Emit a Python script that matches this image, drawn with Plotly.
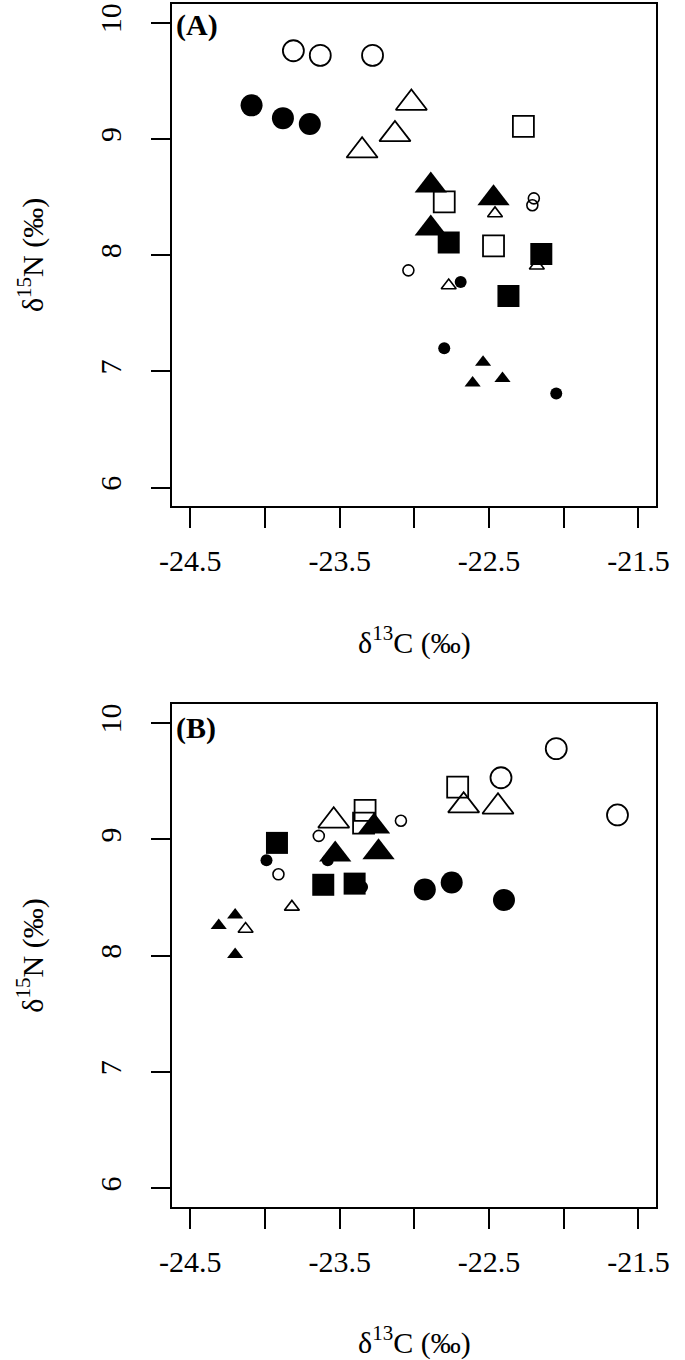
import plotly.graph_objects as go

# ---- painel (A) ----
A_big_open_circle_x = [-23.81, -23.63, -23.28]
A_big_open_circle_y = [9.76, 9.72, 9.72]
A_big_fill_circle_x = [-24.09, -23.88, -23.70]
A_big_fill_circle_y = [9.29, 9.18, 9.13]
A_big_open_tri_x = [-23.02, -23.13, -23.35]
A_big_open_tri_y = [9.31, 9.04, 8.90]
A_big_fill_tri_x = [-22.89, -22.89, -22.47]
A_big_fill_tri_y = [8.60, 8.23, 8.49]
A_big_open_sq_x = [-22.27, -22.80, -22.47]
A_big_open_sq_y = [9.11, 8.46, 8.08]
A_big_fill_sq_x = [-22.77, -22.37, -22.15]
A_big_fill_sq_y = [8.11, 7.65, 8.01]
A_small_open_circle_x = [-22.20, -22.21, -23.04]
A_small_open_circle_y = [8.49, 8.43, 7.87]
A_small_fill_circle_x = [-22.69, -22.80, -22.05]
A_small_fill_circle_y = [7.77, 7.20, 6.81]
A_small_open_tri_x = [-22.46, -22.18, -22.77]
A_small_open_tri_y = [8.36, 7.91, 7.74]
A_small_fill_tri_x = [-22.54, -22.61, -22.41]
A_small_fill_tri_y = [7.08, 6.90, 6.94]

# ---- painel (B) ----
B_big_open_circle_x = [-22.42, -22.05, -21.64]
B_big_open_circle_y = [9.53, 9.78, 9.21]
B_big_fill_circle_x = [-22.93, -22.75, -22.40]
B_big_fill_circle_y = [8.57, 8.63, 8.48]
B_big_open_tri_x = [-23.54, -22.67, -22.44]
B_big_open_tri_y = [9.16, 9.29, 9.28]
B_big_fill_tri_x = [-23.53, -23.27, -23.24]
B_big_fill_tri_y = [8.87, 9.11, 8.89]
B_big_open_sq_x = [-23.33, -23.34, -22.71]
B_big_open_sq_y = [9.25, 9.14, 9.45]
B_big_fill_sq_x = [-23.92, -23.61, -23.40]
B_big_fill_sq_y = [8.97, 8.61, 8.62]
B_small_open_circle_x = [-23.91, -23.64, -23.09]
B_small_open_circle_y = [8.70, 9.03, 9.16]
B_small_fill_circle_x = [-23.99, -23.58, -23.35]
B_small_fill_circle_y = [8.82, 8.82, 8.59]
B_small_open_tri_x = [-24.13, -23.82]
B_small_open_tri_y = [8.23, 8.42]
B_small_fill_tri_x = [-24.31, -24.20, -24.20]
B_small_fill_tri_y = [8.26, 8.35, 8.01]

x_ticks = [-24.5, -23.5, -22.5, -21.5]
x_ticktext = ['-24.5', '-23.5', '-22.5', '-21.5']
x_minor_ticks = [-24.0, -23.0, -22.0]
y_ticks = [6, 7, 8, 9, 10]

# simbolo, tamanho, largura da linha (ordem = ordem de desenho)
estilos = [
    ('small_open_circle', 'circle-open', 11, 1.6),
    ('small_fill_circle', 'circle', 12, 0),
    ('small_open_tri', 'triangle-up-open', 13, 1.6),
    ('small_fill_tri', 'triangle-up', 14, 0),
    ('big_open_circle', 'circle-open', 21, 1.8),
    ('big_open_tri', 'triangle-up-open', 27, 1.8),
    ('big_open_sq', 'square-open', 21, 1.8),
    ('big_fill_circle', 'circle', 22, 0),
    ('big_fill_tri', 'triangle-up', 28, 0),
    ('big_fill_sq', 'square', 22, 0),
]

fig = go.Figure()

for painel, xa, ya in [('A', 'x', 'y'), ('B', 'x2', 'y2')]:
    for nome, simbolo, tam, lw in estilos:
        xs = globals()[painel + '_' + nome + '_x']
        ys = globals()[painel + '_' + nome + '_y']
        fig.add_trace(go.Scatter(
            x=xs, y=ys, mode='markers', xaxis=xa, yaxis=ya,
            name=painel + ' ' + nome, showlegend=False,
            marker=dict(symbol=simbolo, size=tam, color='black',
                        line=dict(width=lw, color='black'))))

fonte = dict(family='Liberation Serif, Times New Roman, serif', size=30, color='black')

eixo_x = dict(range=[-24.62, -21.38], tickmode='array', tickvals=x_ticks, ticktext=x_ticktext,
              showgrid=False, zeroline=False, showline=True, mirror=True,
              linecolor='black', linewidth=1.6, ticks='outside', ticklen=20,
              tickwidth=1.5, tickcolor='black', tickfont=fonte,
              ticklabelstandoff=7,
              minor=dict(tickmode='array', tickvals=x_minor_ticks, ticks='outside',
                         ticklen=20, tickwidth=1.5, tickcolor='black', showgrid=False))
eixo_y = dict(range=[5.84, 10.16], tickmode='array', tickvals=y_ticks,
              showgrid=False, zeroline=False, showline=True, mirror=True,
              linecolor='black', linewidth=1.6, ticks='outside', ticklen=20,
              tickwidth=1.5, tickcolor='black', tickfont=fonte, tickangle=-90,
              ticklabelstandoff=18)

fig.update_layout(
    width=685, height=1360,
    margin=dict(l=0, r=0, t=0, b=0),
    paper_bgcolor='white', plot_bgcolor='white',
    xaxis=dict(eixo_x, domain=[0.2419, 0.9762], anchor='y'),
    yaxis=dict(eixo_y, domain=[0.6282, 0.9976], anchor='x'),
    xaxis2=dict(eixo_x, domain=[0.2419, 0.9762], anchor='y2'),
    yaxis2=dict(eixo_y, domain=[0.1125, 0.4824], anchor='x2'),
)

anot = []
for letra, topo, xtit, ytit in [('(A)', 0.9960, 0.5294, 0.8129),
                                 ('(B)', 0.4790, 0.0140, 0.2974)]:
    anot.append(dict(text='<b>' + letra + '</b>', x=0.2445, y=topo, xref='paper', yref='paper',
                     xanchor='left', yanchor='top', showarrow=False, font=fonte))
    anot.append(dict(text='δ<sup>13</sup>C (‰)', x=0.6088, y=xtit, xref='paper', yref='paper',
                     xanchor='center', yanchor='middle', showarrow=False, font=fonte))
    anot.append(dict(text='δ<sup>15</sup>N (‰)', x=0.027, y=ytit, xref='paper', yref='paper',
                     xanchor='center', yanchor='middle', textangle=-90, showarrow=False, font=fonte))
fig.update_layout(annotations=anot)

# tira a margem padrão do <body> para a figura ocupar a janela toda
fig.write_html("out.html", config={'displayModeBar': False},
               post_script="document.body.style.margin='0';document.body.style.padding='0';")
